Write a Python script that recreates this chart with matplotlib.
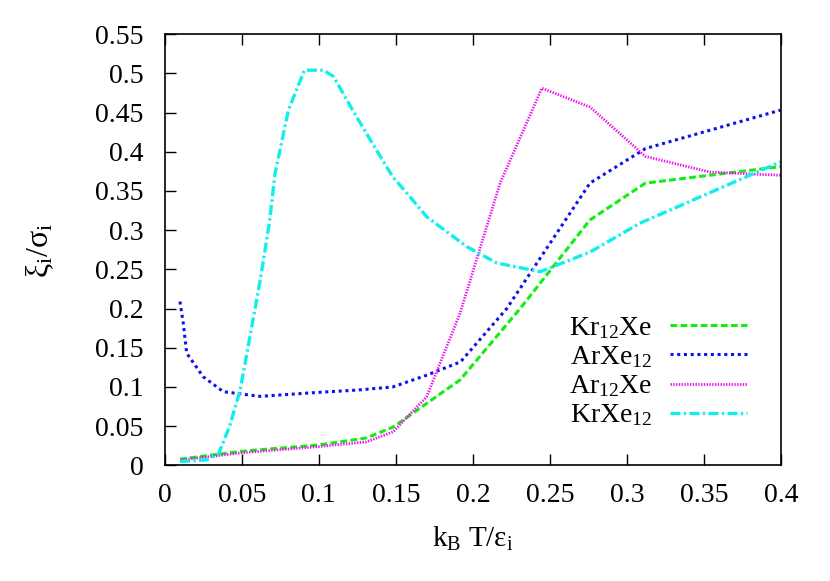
import numpy as np
import matplotlib
matplotlib.use('Agg')
import matplotlib.pyplot as plt

plt.rcParams['font.family'] = ['Liberation Serif', 'DejaVu Serif']
plt.rcParams['mathtext.fontset'] = 'custom'
plt.rcParams['mathtext.rm'] = 'Liberation Serif'
plt.rcParams['mathtext.it'] = 'Liberation Serif:italic'
plt.rcParams['font.size'] = 20

# Kr12Xe
x_kr12xe = [0.010, 0.05, 0.1, 0.131, 0.1484, 0.170, 0.1917, 0.2307, 0.276, 0.312, 0.3996]
y_kr12xe = [0.008, 0.018, 0.026, 0.035, 0.049, 0.079, 0.109, 0.200, 0.313, 0.360, 0.381]
# ArXe12
x_arxe12 = [0.0099, 0.0121, 0.0143, 0.025, 0.038, 0.0619, 0.0987, 0.1247, 0.148, 0.170,
            0.192, 0.222, 0.276, 0.312, 0.3996]
y_arxe12 = [0.209, 0.181, 0.143, 0.113, 0.094, 0.088, 0.093, 0.096, 0.100, 0.115,
            0.132, 0.200, 0.360, 0.404, 0.453]
# Ar12Xe
x_ar12xe = [0.010, 0.05, 0.1, 0.131, 0.1484, 0.170, 0.1917, 0.2177, 0.2448, 0.276, 0.312, 0.354, 0.3996]
y_ar12xe = [0.0068, 0.016, 0.024, 0.030, 0.043, 0.0875, 0.194, 0.360, 0.481, 0.457, 0.394, 0.374, 0.370]
# KrXe12
x_krxe12 = [0.010, 0.027, 0.035, 0.042, 0.049, 0.062, 0.068, 0.0716, 0.0803, 0.0907,
            0.103, 0.1095, 0.122, 0.135, 0.148, 0.159, 0.170, 0.196, 0.2156, 0.2437,
            0.276, 0.3086, 0.3996]
y_krxe12 = [0.005, 0.007, 0.015, 0.049, 0.096, 0.236, 0.310, 0.372, 0.453, 0.504,
            0.504, 0.496, 0.453, 0.410, 0.368, 0.343, 0.317, 0.279, 0.258, 0.247,
            0.272, 0.309, 0.387]

fig = plt.figure(figsize=(8.3, 5.81), dpi=100)
ax = fig.add_axes([0.1984, 0.199, 0.7426, 0.7423])

ax.plot(x_kr12xe, y_kr12xe, color='#11ee11', lw=2.2, ls=(0, (2.2, 1.1)),
        dash_capstyle='butt', label=r'$\mathrm{Kr_{12}Xe}$')
ax.plot(x_arxe12, y_arxe12, color='#1010ee', lw=2.2, ls=(0, (1, 1.2)),
        dash_capstyle='butt', label=r'$\mathrm{ArXe_{12}}$')
ax.plot(x_ar12xe, y_ar12xe, color='#ee10ee', lw=2.0, ls=(0, (0.5, 0.5)),
        dash_capstyle='butt', label=r'$\mathrm{Ar_{12}Xe}$')
ax.plot(x_krxe12, y_krxe12, color='#10eeee', lw=2.4, ls=(0, (3, 1, 0.7, 1)),
        dash_capstyle='butt', label=r'$\mathrm{KrXe_{12}}$')

ax.set_xlim(0, 0.4)
ax.set_ylim(0, 0.55)
ax.set_xticks(np.arange(0, 0.401, 0.05))
ax.set_xticklabels(['0', '0.05', '0.1', '0.15', '0.2', '0.25', '0.3', '0.35', '0.4'])
ax.set_yticks(np.arange(0, 0.551, 0.05))
ax.set_yticklabels(['0', '0.05', '0.1', '0.15', '0.2', '0.25', '0.3', '0.35', '0.4',
                    '0.45', '0.5', '0.55'])
ax.tick_params(direction='in', length=8, width=1, top=True, right=False)
ax.tick_params(axis='x', pad=13)
ax.tick_params(axis='y', pad=15)
for s in ax.spines.values():
    s.set_linewidth(1.2)

ax.set_xlabel(r'$\mathrm{k_B\ T/ε_i}$', fontsize=21, labelpad=12)
ax.set_ylabel(r'$\mathrm{ξ_i/σ_i}$', fontsize=23, labelpad=28)

ax.legend(loc='center right', bbox_to_anchor=(0.944, 0.217), frameon=False,
          markerfirst=False, handlelength=2.75, handletextpad=0.65,
          labelspacing=0.12, borderpad=0, borderaxespad=0)

fig.savefig('out.png', dpi=100)
